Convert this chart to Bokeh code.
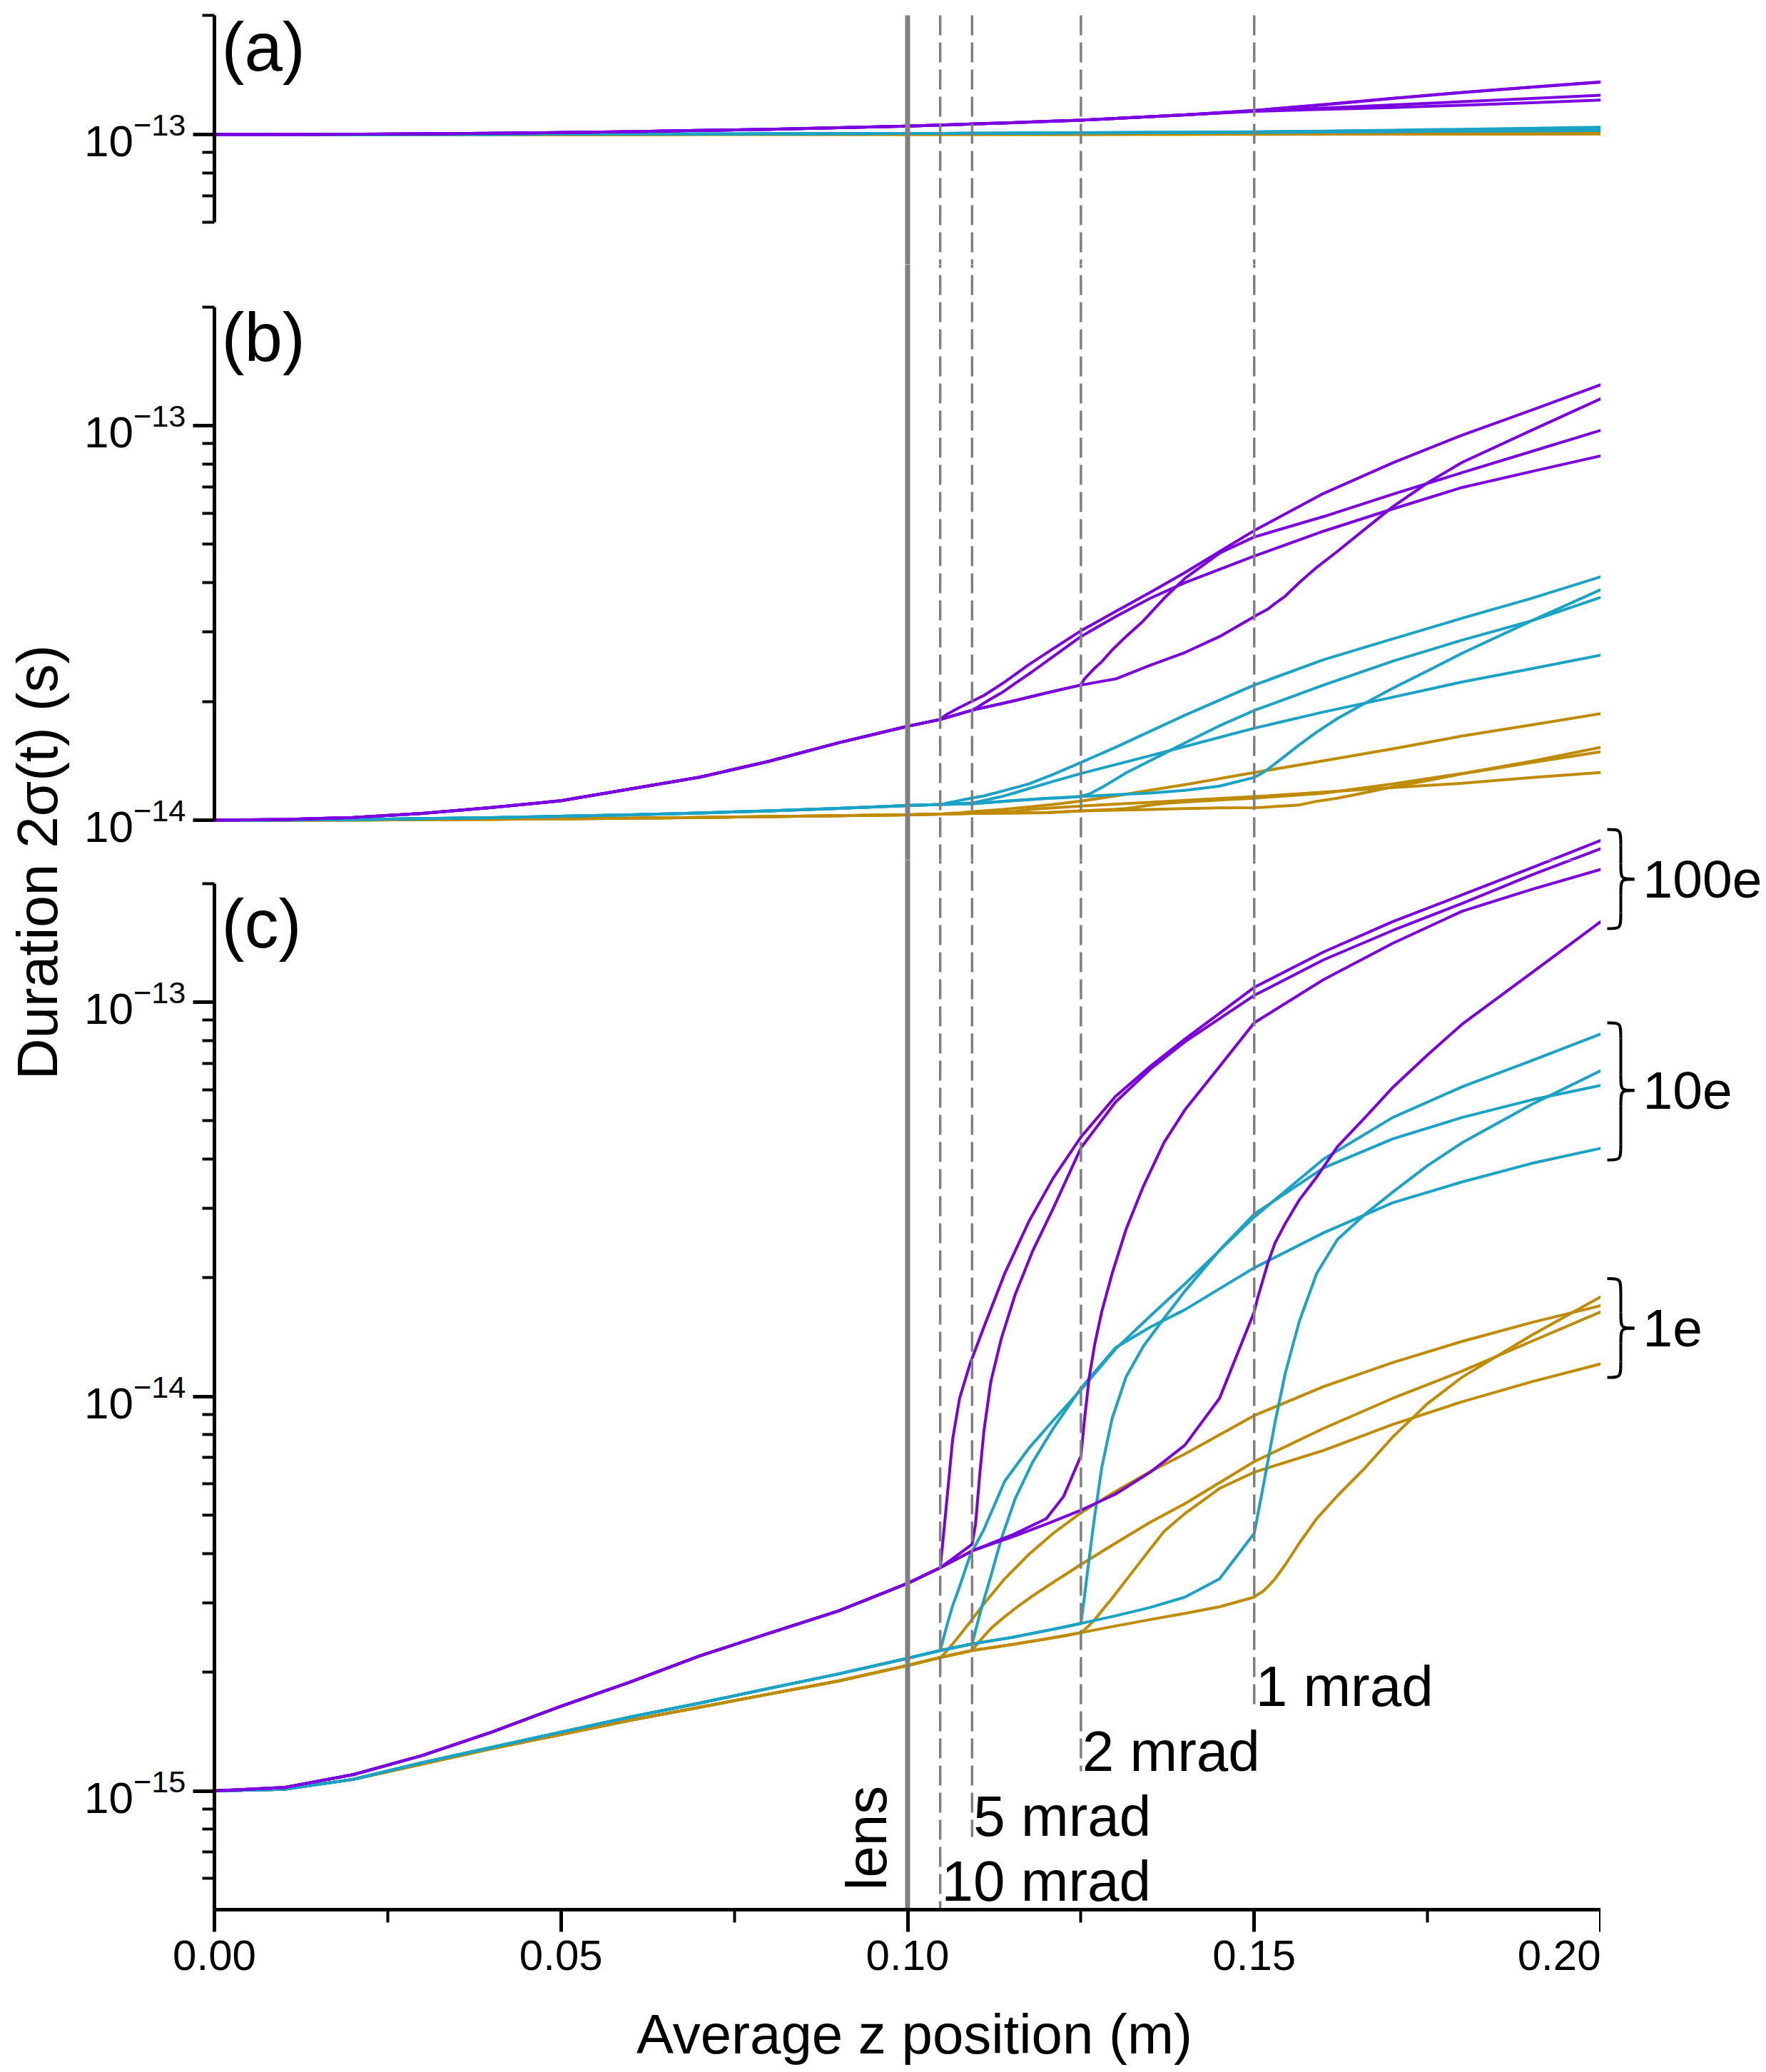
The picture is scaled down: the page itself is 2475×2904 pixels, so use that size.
import math
from bokeh.plotting import figure
from bokeh.layouts import row, column
from bokeh.models import Range1d, FixedTicker, PrintfTickFormatter, Spacer, LogScale
from bokeh.core.properties import value
from bokeh.embed import file_html
from bokeh.resources import INLINE

# ---------------- data (durations in fs, 1 fs = 1e-15 s) ----------------
FS = 1e-15
BASE_X = [0.00, 0.01, 0.02, 0.03, 0.04, 0.05, 0.06, 0.07, 0.08, 0.09, 0.10]
T10_X = [0.1047, 0.1052, 0.1058, 0.1065, 0.1075, 0.109, 0.111, 0.114, 0.1175, 0.121,
         0.125, 0.13, 0.135, 0.14, 0.15, 0.16, 0.17, 0.18, 0.19, 0.20]
T5_X = [0.1047, 0.1093, 0.1098, 0.1104, 0.111, 0.112, 0.1135, 0.1155, 0.118, 0.121,
        0.125, 0.13, 0.135, 0.14, 0.15, 0.16, 0.17, 0.18, 0.19, 0.20]
T2_X = [0.1047, 0.1093, 0.115, 0.12, 0.1225, 0.125, 0.1255, 0.1262, 0.127, 0.128, 0.1295,
        0.1315, 0.134, 0.137, 0.14, 0.145, 0.15, 0.16, 0.17, 0.18, 0.19, 0.20]
T1_X = [0.1047, 0.1093, 0.115, 0.12, 0.125, 0.13, 0.135, 0.14, 0.145, 0.15, 0.1505, 0.1512,
        0.152, 0.153, 0.1545, 0.1565, 0.159, 0.162, 0.166, 0.17, 0.175, 0.18, 0.19, 0.20]

APERTURE_Z = [0.1047, 0.1093, 0.125, 0.15]
APERTURE_LABELS = ["10 mrad", "5 mrad", "2 mrad", "1 mrad"]
LENS_Z = 0.10

# panel (a)
a_purple_base = [100.0, 100.0, 100.2, 100.4, 100.7, 101.1, 101.7, 102.4, 103.1, 104.0, 105.0]
a_purple_10 = [105.6, 105.7, 105.7, 105.8, 106.0, 106.2, 106.5, 106.9, 107.5, 108.1, 108.7, 109.8, 110.9, 112.1, 115.0, 119.0, 123.5, 127.8, 131.8, 135.8]
a_purple_5 = [105.6, 106.3, 106.4, 106.5, 106.5, 106.7, 106.9, 107.2, 107.6, 108.1, 108.7, 109.8, 110.9, 112.1, 114.9, 118.8, 123.3, 127.6, 131.6, 135.6]
a_purple_2 = [105.6, 106.3, 107.1, 107.9, 108.3, 108.7, 108.8, 108.9, 109.1, 109.3, 109.7, 110.1, 110.7, 111.4, 112.1, 113.4, 114.6, 116.6, 118.8, 121.0, 123.3, 125.6]
a_purple_1 = [105.6, 106.3, 107.1, 107.9, 108.7, 109.8, 110.9, 112.1, 113.3, 114.4, 114.5, 114.6, 114.7, 114.8, 115.0, 115.3, 115.6, 116.0, 116.5, 117.0, 117.8, 118.6, 120.3, 122.2]
a_cyan_base = [100.0, 100.0, 100.0, 100.1, 100.1, 100.2, 100.2, 100.3, 100.4, 100.5, 100.6]
a_cyan_10 = [100.6, 100.6, 100.6, 100.6, 100.7, 100.7, 100.7, 100.8, 100.8, 100.9, 101.0, 101.1, 101.2, 101.3, 101.6, 102.0, 102.5, 103.1, 103.7, 104.4]
a_cyan_5 = [100.6, 100.7, 100.7, 100.7, 100.7, 100.7, 100.8, 100.8, 100.8, 100.9, 101.0, 101.1, 101.2, 101.3, 101.5, 101.9, 102.3, 102.8, 103.3, 103.8]
a_cyan_2 = [100.6, 100.7, 100.7, 100.8, 100.8, 100.9, 100.9, 100.9, 100.9, 100.9, 101.0, 101.0, 101.0, 101.1, 101.1, 101.2, 101.3, 101.5, 101.7, 101.9, 102.1, 102.3]
a_cyan_1 = [100.6, 100.7, 100.7, 100.8, 100.9, 100.9, 101.0, 101.1, 101.2, 101.3, 101.3, 101.3, 101.3, 101.3, 101.4, 101.4, 101.5, 101.6, 101.7, 101.8, 102.0, 102.2, 102.5, 102.8]
a_gold_base = [100.0, 100.0, 100.0, 100.0, 100.0, 100.0, 100.0, 100.1, 100.1, 100.1, 100.1]
a_gold_10 = [100.1, 100.1, 100.1, 100.1, 100.1, 100.1, 100.1, 100.1, 100.1, 100.1, 100.1, 100.2, 100.2, 100.2, 100.2, 100.3, 100.3, 100.4, 100.5, 100.6]
a_gold_5 = [100.1, 100.1, 100.1, 100.1, 100.1, 100.1, 100.1, 100.1, 100.1, 100.1, 100.1, 100.1, 100.2, 100.2, 100.2, 100.2, 100.3, 100.3, 100.4, 100.5]
a_gold_2 = [100.1, 100.1, 100.1, 100.1, 100.1, 100.1, 100.1, 100.1, 100.1, 100.1, 100.1, 100.1, 100.1, 100.1, 100.1, 100.2, 100.2, 100.2, 100.2, 100.3, 100.3, 100.4]
a_gold_1 = [100.1, 100.1, 100.1, 100.1, 100.1, 100.1, 100.1, 100.1, 100.1, 100.1, 100.1, 100.1, 100.1, 100.1, 100.1, 100.1, 100.1, 100.2, 100.2, 100.2, 100.2, 100.3, 100.3, 100.4]

# panel (b)
b_purple_base = [10.00, 10.04, 10.16, 10.40, 10.77, 11.20, 12.00, 12.85, 14.10, 15.70, 17.30]
b_purple_10 = [18.0, 18.3, 18.6, 18.9, 19.3, 19.9, 20.7, 22.4, 24.8, 27.2, 30.2, 33.8, 37.8, 42.4, 54.2, 67.3, 80.5, 94.6, 109.4, 127.0]
b_purple_5 = [18.0, 19.0, 19.2, 19.5, 19.8, 20.3, 21.0, 22.2, 23.8, 26.0, 29.2, 32.8, 36.5, 40.0, 46.7, 54.0, 61.5, 69.7, 76.5, 83.8]
b_purple_2 = [18.0, 19.0, 20.0, 21.0, 21.5, 22.0, 22.8, 23.5, 24.3, 25.2, 27.0, 29.2, 32.0, 36.5, 41.0, 47.5, 52.2, 58.8, 67.0, 76.0, 86.0, 97.3]
b_purple_1 = [18.0, 19.0, 20.0, 21.0, 22.0, 22.8, 24.7, 26.6, 29.2, 32.8, 33.2, 33.7, 34.3, 35.4, 37.0, 40.0, 43.7, 48.0, 54.7, 62.3, 71.6, 80.7, 97.3, 117.0]
b_cyan_base = [10.00, 10.01, 10.04, 10.09, 10.15, 10.23, 10.32, 10.43, 10.56, 10.71, 10.89]
b_cyan_10 = [10.96, 11.00, 11.06, 11.12, 11.22, 11.35, 11.52, 11.89, 12.36, 13.06, 14.0, 15.3, 16.8, 18.45, 22.0, 25.5, 28.8, 32.5, 36.5, 41.4]
b_cyan_5 = [10.96, 11.06, 11.10, 11.16, 11.22, 11.32, 11.47, 11.74, 12.10, 12.54, 13.13, 13.83, 14.57, 15.37, 17.1, 18.8, 20.5, 22.4, 24.2, 26.2]
b_cyan_2 = [10.96, 11.0, 11.2, 11.35, 11.40, 11.48, 11.56, 11.64, 11.85, 12.10, 12.54, 13.18, 13.87, 14.75, 15.69, 17.35, 18.97, 22.0, 25.3, 28.6, 32.0, 36.7]
b_cyan_1 = [10.96, 11.0, 11.2, 11.35, 11.48, 11.6, 11.72, 11.9, 12.2, 12.83, 12.97, 13.18, 13.48, 13.9, 14.57, 15.52, 16.72, 18.1, 19.8, 21.6, 23.9, 26.5, 32.0, 38.4]
b_gold_base = [10.00, 10.00, 10.01, 10.03, 10.05, 10.08, 10.12, 10.16, 10.21, 10.26, 10.32]
b_gold_10 = [10.36, 10.37, 10.39, 10.41, 10.44, 10.50, 10.56, 10.66, 10.80, 10.96, 11.18, 11.52, 11.91, 12.30, 13.20, 14.14, 15.17, 16.34, 17.44, 18.62]
b_gold_5 = [10.36, 10.40, 10.41, 10.42, 10.43, 10.45, 10.48, 10.52, 10.66, 10.74, 10.86, 10.98, 11.10, 11.22, 11.47, 11.77, 12.10, 12.40, 12.83, 13.20]
b_gold_2 = [10.36, 10.40, 10.42, 10.45, 10.50, 10.56, 10.57, 10.58, 10.60, 10.62, 10.65, 10.70, 10.86, 11.03, 11.12, 11.25, 11.37, 11.70, 12.36, 13.13, 14.10, 15.30]
b_gold_1 = [10.36, 10.40, 10.42, 10.45, 10.56, 10.60, 10.65, 10.70, 10.75, 10.76, 10.77, 10.78, 10.80, 10.83, 10.87, 10.93, 11.16, 11.37, 11.74, 12.15, 12.60, 13.10, 14.00, 14.90]

# panel (c)
c_purple_base = [1.00, 1.02, 1.10, 1.23, 1.41, 1.64, 1.89, 2.20, 2.51, 2.86, 3.36]
c_purple_10 = [3.68, 4.5, 5.8, 7.8, 9.9, 12.1, 15.0, 20.5, 27.8, 35.8, 45.5, 57.7, 68.7, 80.6, 109.0, 134.0, 160.0, 187.0, 219.0, 257.0]
c_purple_5 = [3.68, 4.22, 4.75, 6.33, 8.16, 10.9, 14.0, 18.1, 23.3, 30.0, 42.7, 55.8, 67.6, 79.3, 104.0, 128.0, 152.0, 178.0, 210.0, 245.0]
c_purple_2 = [3.68, 4.06, 4.45, 4.9, 5.58, 7.07, 8.69, 11.2, 13.6, 16.4, 20.5, 26.5, 34.1, 44.1, 53.3, 68.7, 88.6, 114.0, 141.0, 170.0, 193.0, 217.0]
c_purple_1 = [3.68, 4.06, 4.40, 4.75, 5.15, 5.66, 6.43, 7.53, 9.9, 16.4, 17.8, 19.6, 21.9, 24.5, 27.5, 31.5, 36.0, 43.0, 51.0, 60.8, 73.5, 87.9, 118.6, 160.0]
c_cyan_base = [1.00, 1.01, 1.07, 1.18, 1.29, 1.41, 1.54, 1.67, 1.82, 1.98, 2.17]
c_cyan_10 = [2.27, 2.45, 2.68, 2.95, 3.30, 3.95, 4.6, 6.1, 7.4, 8.7, 10.4, 13.2, 16.0, 19.3, 28.5, 40.0, 51.0, 61.0, 71.0, 83.0]
c_cyan_5 = [2.27, 2.36, 2.55, 2.80, 3.05, 3.50, 4.35, 5.5, 6.8, 8.3, 10.5, 13.3, 15.0, 16.6, 21.2, 26.0, 31.0, 35.0, 39.0, 42.6]
c_cyan_2 = [2.27, 2.36, 2.45, 2.55, 2.60, 2.66, 3.1, 3.9, 5.0, 6.6, 8.8, 11.2, 13.4, 15.8, 18.5, 23.5, 29.0, 38.0, 45.0, 51.0, 56.5, 61.5]
c_cyan_1 = [2.27, 2.36, 2.45, 2.55, 2.66, 2.78, 2.92, 3.10, 3.45, 4.5, 5.0, 5.8, 6.9, 8.6, 11.5, 15.5, 20.5, 25.0, 29.0, 33.0, 38.5, 44.0, 55.0, 67.0]
c_gold_base = [1.00, 1.01, 1.07, 1.17, 1.28, 1.39, 1.51, 1.63, 1.76, 1.90, 2.08]
c_gold_10 = [2.18, 2.22, 2.28, 2.36, 2.48, 2.68, 2.98, 3.45, 3.98, 4.5, 5.07, 5.75, 6.45, 7.15, 8.95, 10.6, 12.2, 13.8, 15.4, 17.0]
c_gold_5 = [2.18, 2.27, 2.33, 2.40, 2.47, 2.58, 2.72, 2.9, 3.12, 3.38, 3.75, 4.25, 4.8, 5.35, 6.84, 8.3, 9.9, 11.6, 13.8, 16.4]
c_gold_2 = [2.18, 2.27, 2.35, 2.43, 2.47, 2.52, 2.56, 2.63, 2.72, 2.86, 3.08, 3.42, 3.9, 4.55, 5.05, 5.85, 6.43, 7.3, 8.5, 9.7, 10.9, 12.1]
c_gold_1 = [2.18, 2.27, 2.35, 2.43, 2.52, 2.62, 2.72, 2.82, 2.93, 3.10, 3.15, 3.2, 3.3, 3.45, 3.75, 4.25, 4.9, 5.6, 6.6, 7.9, 9.6, 11.2, 14.3, 17.9]

GROUP_LABELS = ["100e", "10e", "1e"]
BRACE_TOP_FS = [274.0, 88.6, 19.9]
BRACE_TIP_FS = [205.0, 59.7, 14.9]
BRACE_BOT_FS = [153.6, 39.8, 11.18]

# ---------------- styling / layout ----------------
PURPLE, CYAN, GOLD, GRAY = "#7A00E0", "#1AA3C4", "#BF8B00", "#808080"
FONT = "Liberation Sans"
W, H = 2475, 2904
TW = 100                      # width of the y-title strip
FRAME_L, FRAME_R = 300, 2243  # plot frame (x = 0 .. 0.2)
PX_PER_X = (FRAME_R - FRAME_L) / 0.2
RIGHT_W = W - FRAME_R         # strip for the braces
BRACE_TOP_PX = 1100
XTITLE_TOP = 2790             # strip holding the x-axis title

SPEC = {
    "a": dict(top=0, bottom=370, anchor=188, k=555.0),
    "b": dict(top=370, bottom=1205, anchor=596, k=553.0),
    "c": dict(top=1205, bottom=2676, anchor=1404, k=552.8),
}

def y_at(s, px):
    return 10 ** (-13 - (px - s["anchor"]) / s["k"])

def xpx(px):
    return (px - FRAME_L) / PX_PER_X

def curve(base, tail, tx):
    n = min(len(tail), len(tx))
    return BASE_X + tx[:n], [v * FS for v in base] + [v * FS for v in tail[:n]]

def style_axis(ax, size="60px"):
    ax.axis_line_width = 5
    ax.axis_line_color = "black"
    ax.major_tick_line_width = 5
    ax.minor_tick_line_width = 4
    ax.major_tick_line_color = "black"
    ax.minor_tick_line_color = "black"
    ax.major_tick_in = 0
    ax.minor_tick_in = 0
    ax.major_label_text_font = FONT
    ax.major_label_text_font_size = size
    ax.major_label_text_color = "black"

def style_yaxis(ax, ticks, minor, bounds):
    ax.ticker = FixedTicker(ticks=ticks, minor_ticks=minor)
    ax.bounds = bounds
    style_axis(ax, "62px")
    ax.major_tick_out = 30
    ax.minor_tick_out = 17
    ax.major_label_standoff = 10

def make_panel(key, xaxis):
    s = SPEC[key]
    fig_h = (XTITLE_TOP - s["top"]) if xaxis else (s["bottom"] - s["top"])
    bb = (XTITLE_TOP - s["bottom"]) if xaxis else 0
    yr = Range1d(y_at(s, s["bottom"]), y_at(s, s["top"]))
    p = figure(width=FRAME_R - TW, height=fig_h, x_range=Range1d(0, 0.2), y_range=yr,
               y_axis_type="log", x_axis_location="below" if xaxis else None,
               toolbar_location=None, output_backend="svg",
               min_border_left=FRAME_L - TW, min_border_right=0,
               min_border_top=0, min_border_bottom=bb)
    p.outline_line_color = None
    p.xgrid.visible = False
    p.ygrid.visible = False
    return p, yr

def draw_curves(p, data, range_name="default"):
    for color, base, tails in data:
        for tail, tx in zip(tails, [T10_X, T5_X, T2_X, T1_X]):
            xs, ys = curve(base, tail, tx)
            p.line(xs, ys, line_color=color, line_width=4, line_join="round",
                   line_cap="round", y_range_name=range_name)

def draw_vlines(p, top_vals, bot_vals):
    p.segment(x0=[LENS_Z], y0=[top_vals[0]], x1=[LENS_Z], y1=[bot_vals[0]],
              line_color=GRAY, line_width=7)
    p.segment(x0=APERTURE_Z, y0=top_vals[1:], x1=APERTURE_Z, y1=bot_vals[1:],
              line_color=GRAY, line_width=3.5, line_dash="28 10")

def panel_label(p, key, txt, mid_px):
    p.text(x=[xpx(310)], y=[y_at(SPEC[key], mid_px)], text=[txt],
           text_font=value(FONT), text_font_size="96px", text_baseline="middle",
           text_align="left", text_color="black")

C_PURPLE = (PURPLE, c_purple_base, [c_purple_10, c_purple_5, c_purple_2, c_purple_1])

# ---- panel (a)
pa, yra = make_panel("a", False)
draw_curves(pa, [(GOLD, a_gold_base, [a_gold_10, a_gold_5, a_gold_2, a_gold_1]),
                 (CYAN, a_cyan_base, [a_cyan_10, a_cyan_5, a_cyan_2, a_cyan_1]),
                 (PURPLE, a_purple_base, [a_purple_10, a_purple_5, a_purple_2, a_purple_1])])
draw_vlines(pa, [2e-13] * 5, [yra.start * 0.9] * 5)
style_yaxis(pa.yaxis[0], [1e-13], [6e-14, 7e-14, 8e-14, 9e-14, 2e-13], (6e-14, 2e-13))
panel_label(pa, "a", "(a)", 65)

# ---- panel (b)
pb, yrb = make_panel("b", False)
sc = SPEC["c"]
# the tops of the panel-(c) curves run up into this strip: same (c) scale
pb.extra_y_ranges = {"c": Range1d(y_at(sc, SPEC["b"]["bottom"]), y_at(sc, SPEC["b"]["top"]))}
pb.extra_y_scales = {"c": LogScale()}
draw_curves(pb, [(GOLD, b_gold_base, [b_gold_10, b_gold_5, b_gold_2, b_gold_1]),
                 (CYAN, b_cyan_base, [b_cyan_10, b_cyan_5, b_cyan_2, b_cyan_1]),
                 (PURPLE, b_purple_base, [b_purple_10, b_purple_5, b_purple_2, b_purple_1])])
draw_curves(pb, [C_PURPLE], range_name="c")
draw_vlines(pb, [yrb.end * 1.1] * 5, [yrb.start * 0.9] * 5)
style_yaxis(pb.yaxis[0], [1e-14, 1e-13], [m * 1e-14 for m in range(2, 10)] + [2e-13], (1e-14, 2e-13))
panel_label(pb, "b", "(b)", 472)

# ---- panel (c)
pc, yrc = make_panel("c", True)
draw_curves(pc, [(GOLD, c_gold_base, [c_gold_10, c_gold_5, c_gold_2, c_gold_1]),
                 (CYAN, c_cyan_base, [c_cyan_10, c_cyan_5, c_cyan_2, c_cyan_1]),
                 C_PURPLE])
line_end_px = [2676, 2676, 2574, 2482, 2392]
draw_vlines(pc, [yrc.end * 1.1] * 5, [y_at(sc, px) for px in line_end_px])
style_yaxis(pc.yaxis[0], [1e-15, 1e-14, 1e-13],
            [m * 1e-16 for m in range(5, 10)] + [m * 1e-15 for m in range(2, 10)]
            + [m * 1e-14 for m in range(2, 10)] + [2e-13], (5e-16, 2e-13))
panel_label(pc, "c", "(c)", 1294)

xa = pc.xaxis[0]
xa.ticker = FixedTicker(ticks=[0.0, 0.05, 0.10, 0.15, 0.20], minor_ticks=[0.025, 0.075, 0.125, 0.175])
xa.bounds = (0, 0.2)
xa.formatter = PrintfTickFormatter(format="%.2f")
style_axis(xa)
xa.major_tick_out = 31
xa.minor_tick_out = 18
xa.major_label_standoff = 12

# aperture labels and lens label (vertical centre of the text given)
label_mid_px = [2636, 2545, 2454, 2363]
pc.text(x=[z + 0.0002 for z in APERTURE_Z], y=[y_at(sc, px) for px in label_mid_px],
        text=APERTURE_LABELS, text_font=value(FONT), text_font_size="80px",
        text_baseline="middle", text_align="left", text_color="black")
pc.text(x=[xpx(1214)], y=[y_at(sc, 2649)], text=["lens"], angle=math.pi / 2,
        text_font=value(FONT), text_font_size="80px", text_baseline="middle",
        text_align="left", text_color="black")

# ---- x-axis title strip under panel (c)
px_t = figure(width=FRAME_R - TW, height=H - XTITLE_TOP, x_range=Range1d(0, 0.2),
              y_range=Range1d(H - XTITLE_TOP, 0), toolbar_location=None, output_backend="svg",
              min_border_left=FRAME_L - TW, min_border_right=0, min_border_top=0,
              min_border_bottom=0, x_axis_location=None, y_axis_location=None)
px_t.outline_line_color = None
px_t.xgrid.visible = False
px_t.ygrid.visible = False
px_t.text(x=[xpx(1281)], y=[2850 - XTITLE_TOP], text=["Average z position (m)"],
          text_font=value(FONT), text_font_size="78px", text_baseline="middle",
          text_align="center", text_color="black")

# ---- brace strip on the right of panel (c)
sbr = dict(top=BRACE_TOP_PX, bottom=sc["bottom"], anchor=sc["anchor"], k=sc["k"])
pr = figure(width=RIGHT_W, height=H - BRACE_TOP_PX,
            x_range=Range1d(0.2, 0.2 + RIGHT_W / PX_PER_X),
            y_range=Range1d(y_at(sbr, sbr["bottom"]), y_at(sbr, sbr["top"])),
            y_axis_type="log", x_axis_location=None, y_axis_location=None,
            toolbar_location=None, output_backend="svg",
            min_border_left=0, min_border_right=0, min_border_top=0,
            min_border_bottom=H - sc["bottom"])
pr.outline_line_color = None
pr.xgrid.visible = False
pr.ygrid.visible = False

K = sc["k"]
def shift(v, dpx):
    return v * 10 ** (-dpx / K)
L, M, R = xpx(2252), xpx(2271), xpx(2290)
r = 22
bx0, by0, bx1, by1, bcx, bcy = [], [], [], [], [], []
sx, sy0, sy1 = [], [], []
for top, tip, bot in zip(BRACE_TOP_FS, BRACE_TIP_FS, BRACE_BOT_FS):
    t, m, b = top * FS, tip * FS, bot * FS
    segs = [((L, t), (M, shift(t, r)), (M, t)),
            ((M, shift(m, -r)), (R, m), (M, m)),
            ((R, m), (M, shift(m, r)), (M, m)),
            ((M, shift(b, -r)), (L, b), (M, b))]
    for (p0, p1, c) in segs:
        bx0.append(p0[0]); by0.append(p0[1]); bx1.append(p1[0]); by1.append(p1[1])
        bcx.append(c[0]); bcy.append(c[1])
    sx += [M, M]
    sy0 += [shift(t, r), shift(m, r)]
    sy1 += [shift(m, -r), shift(b, -r)]
pr.bezier(x0=bx0, y0=by0, x1=bx1, y1=by1, cx0=bcx, cy0=bcy, cx1=bcx, cy1=bcy,
          line_color="black", line_width=4)
pr.segment(x0=sx, y0=sy0, x1=sx, y1=sy1, line_color="black", line_width=4)
pr.text(x=[xpx(2302)] * 3, y=[v * FS for v in BRACE_TIP_FS], text=GROUP_LABELS,
        text_font=value(FONT), text_font_size="75px", text_baseline="middle",
        text_align="left", text_color="black")

# ---- y title strip
pt = figure(width=TW, height=H, x_range=Range1d(0, TW), y_range=Range1d(H, 0),
            toolbar_location=None, output_backend="svg", min_border=0,
            x_axis_location=None, y_axis_location=None)
pt.outline_line_color = None
pt.xgrid.visible = False
pt.ygrid.visible = False
pt.text(x=[52], y=[1208], text=["Duration 2σ(t) (s)"], angle=math.pi / 2,
        text_font=value(FONT), text_font_size="80px", text_baseline="middle",
        text_align="center", text_color="black")

layout = row(pt, column(pa, pb, pc, px_t),
             column(Spacer(width=RIGHT_W, height=BRACE_TOP_PX), pr))
open("out.html", "w").write(file_html(layout, INLINE))
